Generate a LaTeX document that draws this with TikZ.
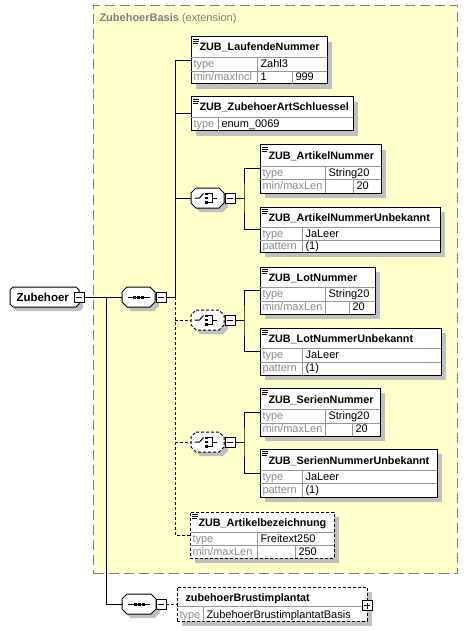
\documentclass[tikz,border=0pt]{standalone}
\usepackage{fontspec}
\setmainfont{Liberation Sans}
\definecolor{bgy}{RGB}{255,255,204}
\definecolor{shd}{RGB}{192,192,192}
\definecolor{lblc}{RGB}{140,140,140}
\definecolor{frm}{RGB}{128,128,128}
\definecolor{sepc}{RGB}{150,150,150}
\newcounter{tn}
\tikzset{
  elem/.style={draw, fill=white, line width=1pt, inner sep=0pt, outer sep=0pt},
  opt/.style={dash pattern=on 3pt off 2pt},
  ttl/.style={font=\bfseries\fontsize{10.8}{12}\selectfont, inner sep=0pt},
  lbl/.style={text=lblc, font=\fontsize{11}{12}\selectfont, inner sep=0pt},
  val/.style={text=black, font=\fontsize{11}{12}\selectfont, inner sep=0pt},
  mbox/.style={draw, fill=white, line width=0.8pt, minimum size=10pt, inner sep=0pt,
    path picture={\draw[line width=0.8pt] ([xshift=2pt]path picture bounding box.west) -- ([xshift=-2pt]path picture bounding box.east);}},
  pbox/.style={draw, fill=white, line width=0.8pt, minimum size=10pt, inner sep=0pt,
    path picture={\draw[line width=0.8pt] ([xshift=2pt]path picture bounding box.west) -- ([xshift=-2pt]path picture bounding box.east)
      ([yshift=-2pt]path picture bounding box.north) -- ([yshift=2pt]path picture bounding box.south);}},
  seqicon/.pic={
    \draw[line width=1pt] (-11,0) -- (11,0);
    \fill (-5.5,-1.5) rectangle (-2.5,1.5);
    \fill (-1.5,-1.5) rectangle (1.5,1.5);
    \fill (2.5,-1.5) rectangle (5.5,1.5);
  },
  chicon/.pic={
    \draw[line width=1pt] (-13,0) -- (-8,0) -- (-4,-4.5);
    \fill (-2.5,-5.5) rectangle (0.5,-3);
    \fill (-2.5,-1.25) rectangle (0.5,1.25);
    \fill (-2.5,3) rectangle (0.5,5.5);
    \draw[line width=1pt] (0.5,-4.25) -- (4.5,-4.25) -- (4.5,4.25) -- (0.5,4.25);
    \draw[line width=1pt] (4.5,0) -- (9,0);
  }
}
\newcommand\octpath[5]{(#1+#5,#2) -- (#3-#5,#2) -- (#3,#2+#5) -- (#3,#4-#5) -- (#3-#5,#4) -- (#1+#5,#4) -- (#1,#4-#5) -- (#1,#2+#5) -- cycle}
\newcommand\octnode[7]{%
  \fill[shd, shift={(4,4)}] \octpath{#3}{#4}{#5}{#6}{#7};
  \draw[fill=white, line width=1pt, #2] \octpath{#3}{#4}{#5}{#6}{#7};
  \node[inner sep=0pt, outer sep=0pt, minimum width={(#5-#3)*1pt}, minimum height={(#6-#4)*1pt}, anchor=north west] (#1) at (#3,#4) {};
}
\newcommand\elbox[8]{%
  \fill[shd] (#3+5,#4+5) rectangle (#5+5,#6+5);
  \node[elem,#2,anchor=north west,minimum width={(#5-#3)*1pt},minimum height={(#6-#4)*1pt}] (#1) at (#3,#4) {};
  \node[ttl,anchor=base west] (#1-t) at (#3+8,#7-6) {#8};
}
\newcommand\docicon[2]{\draw[line width=0.7pt] (#1+2,#2+2) -- (#1+8,#2+2) (#1+2,#2+4) -- (#1+8,#2+4) (#1+2,#2+6) -- (#1+7,#2+6);}
\newcommand\rowline[3]{\draw[sepc,line width=0.8pt] (#1,#3) -- (#2,#3);}
\newcommand\colline[3]{\draw[sepc,line width=0.8pt] (#1,#2) -- (#1,#3);}
\newcommand\lbltext[3]{\stepcounter{tn}\node[lbl,anchor=base west] (t\arabic{tn}) at (#1,#2) {#3};}
\newcommand\valtext[3]{\stepcounter{tn}\node[val,anchor=base west] (t\arabic{tn}) at (#1,#2) {#3};}
\begin{document}
\begin{tikzpicture}[x=1pt,y=-1pt,line width=1pt]
\useasboundingbox (0,0) rectangle (468,631);
% extension frame
\node[fill=bgy, draw=frm, line width=1pt, dash pattern=on 10pt off 5pt, inner sep=0pt, anchor=north west,
  minimum width=364pt, minimum height=568pt] (basis) at (93,5) {};
\node[anchor=base west, text=frm, inner sep=0pt, font=\fontsize{11}{12}\selectfont] (basis-t) at (99,21.5) {\textbf{ZubehoerBasis} (extension)};

% root element
\octnode{zub}{}{10}{287}{79}{307}{3}
\node[anchor=base west, inner sep=0pt, font=\bfseries\fontsize{11.5}{12}\selectfont] (zub-t) at (16,301.5) {Zubehoer};
\node[mbox] (zubm) at (79,297) {};

% sequences
\octnode{s1}{}{122}{287}{155}{307}{5}
\pic at (s1.center) {seqicon};
\node[mbox] (s1m) at (161,297) {};
\octnode{s2}{}{122}{594}{156}{614}{5}
\pic at (s2.center) {seqicon};
\node[mbox] (s2m) at (161,604) {};

% choices
\octnode{c1}{}{191}{188}{224}{208}{5}
\pic at (c1.center) {chicon};
\node[mbox] (c1m) at (230,198) {};
\octnode{c2}{opt}{191}{310}{224}{330}{5}
\pic at (c2.center) {chicon};
\node[mbox] (c2m) at (230,320) {};
\octnode{c3}{opt}{191}{432}{224}{452}{5}
\pic at (c3.center) {chicon};
\node[mbox] (c3m) at (230,442) {};

% ZUB_LaufendeNummer
\elbox{ln}{}{191}{37}{327}{84}{57}{ZUB\_LaufendeNummer}
\docicon{191}{37}
\rowline{191}{327}{57}\rowline{191}{327}{71}
\colline{257}{57}{84}\colline{292}{71}{84}
\lbltext{193}{67.5}{type}\valtext{260}{67.5}{Zahl3}
\lbltext{193}{81}{min/maxIncl}\valtext{260}{81}{1}\valtext{295}{81}{999}

% ZUB_ZubehoerArtSchluessel
\elbox{ars}{}{191}{97}{353}{131}{117}{ZUB\_ZubehoerArtSchluessel}
\docicon{191}{97}
\rowline{191}{353}{117}
\colline{218}{117}{131}
\lbltext{193}{127.5}{type}\valtext{221}{127.5}{enum\_0069}

% ZUB_ArtikelNummer
\elbox{an}{}{260}{145}{381}{193}{166}{ZUB\_ArtikelNummer}
\docicon{260}{145}
\rowline{260}{381}{166}\rowline{260}{381}{179}
\colline{325}{166}{193}\colline{353}{179}{193}
\lbltext{262}{176}{type}\valtext{328}{176}{String20}
\lbltext{262}{189.5}{min/maxLen}\valtext{356}{189.5}{20}

% ZUB_ArtikelNummerUnbekannt
\elbox{anu}{}{260}{207}{440}{252}{227}{ZUB\_ArtikelNummerUnbekannt}
\docicon{260}{207}
\rowline{260}{440}{227}\rowline{260}{440}{240}
\colline{302}{227}{252}
\lbltext{262}{237}{type}\valtext{305}{237}{JaLeer}
\lbltext{262}{249.5}{pattern}\valtext{305}{249.5}{(1)}

% ZUB_LotNummer
\elbox{lot}{}{260}{267}{375}{314}{287}{ZUB\_LotNummer}
\docicon{260}{267}
\rowline{260}{375}{287}\rowline{260}{375}{301}
\colline{325}{287}{314}\colline{349}{301}{314}
\lbltext{262}{297.5}{type}\valtext{328}{297.5}{String20}
\lbltext{262}{310.5}{min/maxLen}\valtext{352}{310.5}{20}

% ZUB_LotNummerUnbekannt
\elbox{lotu}{}{260}{328}{441}{375}{348}{ZUB\_LotNummerUnbekannt}
\docicon{260}{328}
\rowline{260}{441}{348}\rowline{260}{441}{362}
\colline{302}{348}{375}
\lbltext{262}{358.5}{type}\valtext{305}{358.5}{JaLeer}
\lbltext{262}{371.5}{pattern}\valtext{305}{371.5}{(1)}

% ZUB_SerienNummer
\elbox{sn}{}{260}{388}{380}{436}{409}{ZUB\_SerienNummer}
\docicon{260}{388}
\rowline{260}{380}{409}\rowline{260}{380}{423}
\colline{325}{409}{436}\colline{352}{423}{436}
\lbltext{262}{419.5}{type}\valtext{328}{419.5}{String20}
\lbltext{262}{432.5}{min/maxLen}\valtext{355}{432.5}{20}

% ZUB_SerienNummerUnbekannt
\elbox{snu}{}{260}{449}{437}{497}{470}{ZUB\_SerienNummerUnbekannt}
\docicon{260}{449}
\rowline{260}{437}{470}\rowline{260}{437}{483}
\colline{302}{470}{497}
\lbltext{262}{480}{type}\valtext{305}{480}{JaLeer}
\lbltext{262}{493.5}{pattern}\valtext{305}{493.5}{(1)}

% ZUB_Artikelbezeichnung (optional)
\elbox{abz}{opt}{190}{512}{334}{558}{532}{ZUB\_Artikelbezeichnung}
\docicon{190}{512}
\rowline{190}{334}{532}\rowline{190}{334}{545}
\colline{257}{532}{558}\colline{295}{545}{558}
\lbltext{192}{542}{type}\valtext{260}{542}{Freitext250}
\lbltext{192}{555}{min/maxLen}\valtext{298}{555}{250}

% zubehoerBrustimplantat (optional)
\fill[shd] (182,592) rectangle (372,626);
\node[elem,opt,anchor=north west,minimum width=190pt,minimum height=34pt] (zbi) at (177,587) {};
\node[ttl,anchor=base west] (zbi-t) at (185,601.5) {zubehoerBrustimplantat};
\rowline{177}{367}{606}
\colline{203}{606}{621}
\lbltext{179}{618}{type}\valtext{206}{618}{ZubehoerBrustimplantatBasis}
\node[pbox] (zbip) at (367,605.5) {};

% connectors
\coordinate (b0) at (106,297);
\coordinate (b1) at (175,297);
\draw (zubm.east) -- (s1.west);
\draw (b0) |- (s2.west);
\draw[opt] (s2m.east) -- (zbi.west);
\draw (s1m.east) -- (b1);
\draw (b1) -- (b1 |- ln.west) -- (ln.west);
\draw (b1 |- ars.west) -- (ars.west);
\draw (b1 |- c1.west) -- (c1.west);
\draw[opt] (b1) -- (b1 |- abz.west) -- (abz.west);
\draw[opt] (b1 |- c2.west) -- (c2.west);
\draw[opt] (b1 |- c3.west) -- (c3.west);
\coordinate (k1) at (244,198);
\coordinate (k2) at (244,320);
\coordinate (k3) at (244,442);
\draw (c1m.east) -- (k1);
\draw (an.west) -| (k1) |- (anu.west);
\draw (c2m.east) -- (k2);
\draw (lot.west) -| (k2) |- (lotu.west);
\draw (c3m.east) -- (k3);
\draw (sn.west) -| (k3) |- (snu.west);
\end{tikzpicture}
\end{document}
